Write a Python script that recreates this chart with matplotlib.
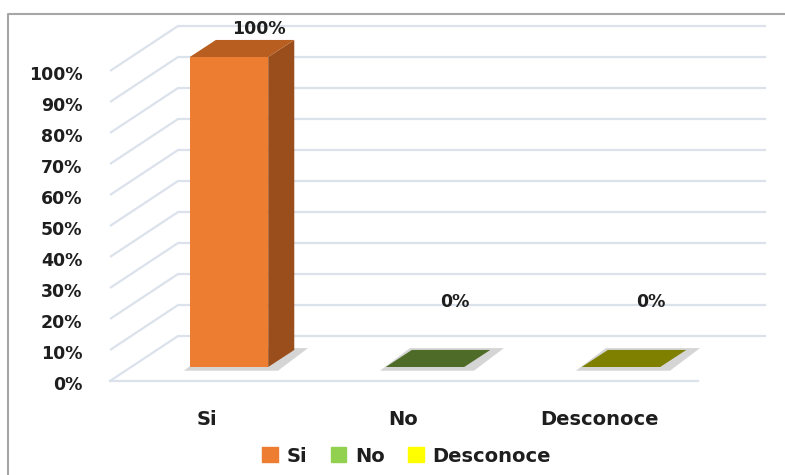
import matplotlib
matplotlib.use("Agg")
import matplotlib.pyplot as plt
from matplotlib.patches import Polygon, Patch

categories = ["Si", "No", "Desconoce"]
values = [100, 0, 0]
front_colors = ["#ED7D31", "#92D050", "#FFFF00"]
top_colors = ["#B95E21", "#4E6B27", "#7F7F00"]
side_colors = ["#9A4E1B", "#3E5620", "#666600"]
ticks = list(range(0, 101, 10))

# oblique projection offsets (category units, percent units)
bar_w = 0.4
depth = (0.133, 5.5)      # depth of a bar
front = (-0.107, -4.5)    # floor front edge, relative to the bar plane
back = (0.24, 10.0)       # back wall, relative to the bar plane
x_lo, x_hi = -0.5, 2.5

grid_c = "#DCE2EC"
text_c = "#1E1E1E"
font = dict(family="DejaVu Sans", weight="bold", color=text_c)

fig = plt.figure(figsize=(7.85, 4.75), dpi=100)
ax = fig.add_axes([0, 0, 1, 1])
ax.set_xlim(-229 / 196, 556 / 196)
ax.set_ylim(-108 / 3.1, 367 / 3.1)
ax.axis("off")

# walls: left diagonals and back wall lines
for g in ticks:
    ax.plot([x_lo + front[0], x_lo + back[0], x_hi + back[0]],
            [g + front[1], g + back[1], g + back[1]],
            color=grid_c, lw=1.6, zorder=1, solid_capstyle="butt")
# floor front edge
ax.plot([x_lo + front[0], x_hi + front[0]], [front[1], front[1]],
        color=grid_c, lw=1.6, zorder=1)

# y tick labels
for g in ticks:
    ax.text(x_lo + front[0] - 0.14, g - 5.8, f"{g}%", ha="right", va="center",
            fontsize=12.5, **font)

for i, v in enumerate(values):
    l, r = i - bar_w / 2, i + bar_w / 2
    dx, dy = depth
    # soft shadow under the base
    ax.add_patch(Polygon([(l - 0.03, -1.2), (r + 0.05, -1.2),
                          (r + dx + 0.07, dy + 0.6), (l + dx - 0.01, dy + 0.6)],
                         closed=True, color="#C4C4C4", alpha=0.7, lw=0, zorder=2))
    ax.bar(i, v, width=bar_w, bottom=0, color=front_colors[i], lw=0, zorder=3)
    ax.add_patch(Polygon([(r, 0), (r + dx, dy), (r + dx, v + dy), (r, v)],
                         closed=True, color=side_colors[i], lw=0, zorder=3))
    ax.add_patch(Polygon([(l, v), (r, v), (r + dx, v + dy), (l + dx, v + dy)],
                         closed=True, color=top_colors[i], lw=0, zorder=4))
    label_y = v + dy + 3.6 if v > 0 else 21
    ax.text(i + 0.15, label_y, f"{v}%", ha="center", va="center",
            fontsize=12.5, **font)
    ax.text(i - 0.112, -16.8, categories[i], ha="center", va="center",
            fontsize=14, **font)

handles = [Patch(color=c, label=n) for c, n in zip(front_colors, categories)]
fig.legend(handles=handles, loc="center", bbox_to_anchor=(0.518, 0.04),
           ncol=3, frameon=False, handlelength=0.8, handleheight=0.8,
           handletextpad=0.45, columnspacing=1.2,
           prop=dict(family="DejaVu Sans", weight="bold", size=14),
           labelcolor=text_c)

# outer chart border (left and top sides visible)
fig.add_artist(plt.Line2D([8 / 785, 8 / 785, 1.0], [0.0, 1 - 14 / 475, 1 - 14 / 475],
                          transform=fig.transFigure, color="#A6A6A6", lw=1.5))

fig.savefig("out.png", dpi=100)
